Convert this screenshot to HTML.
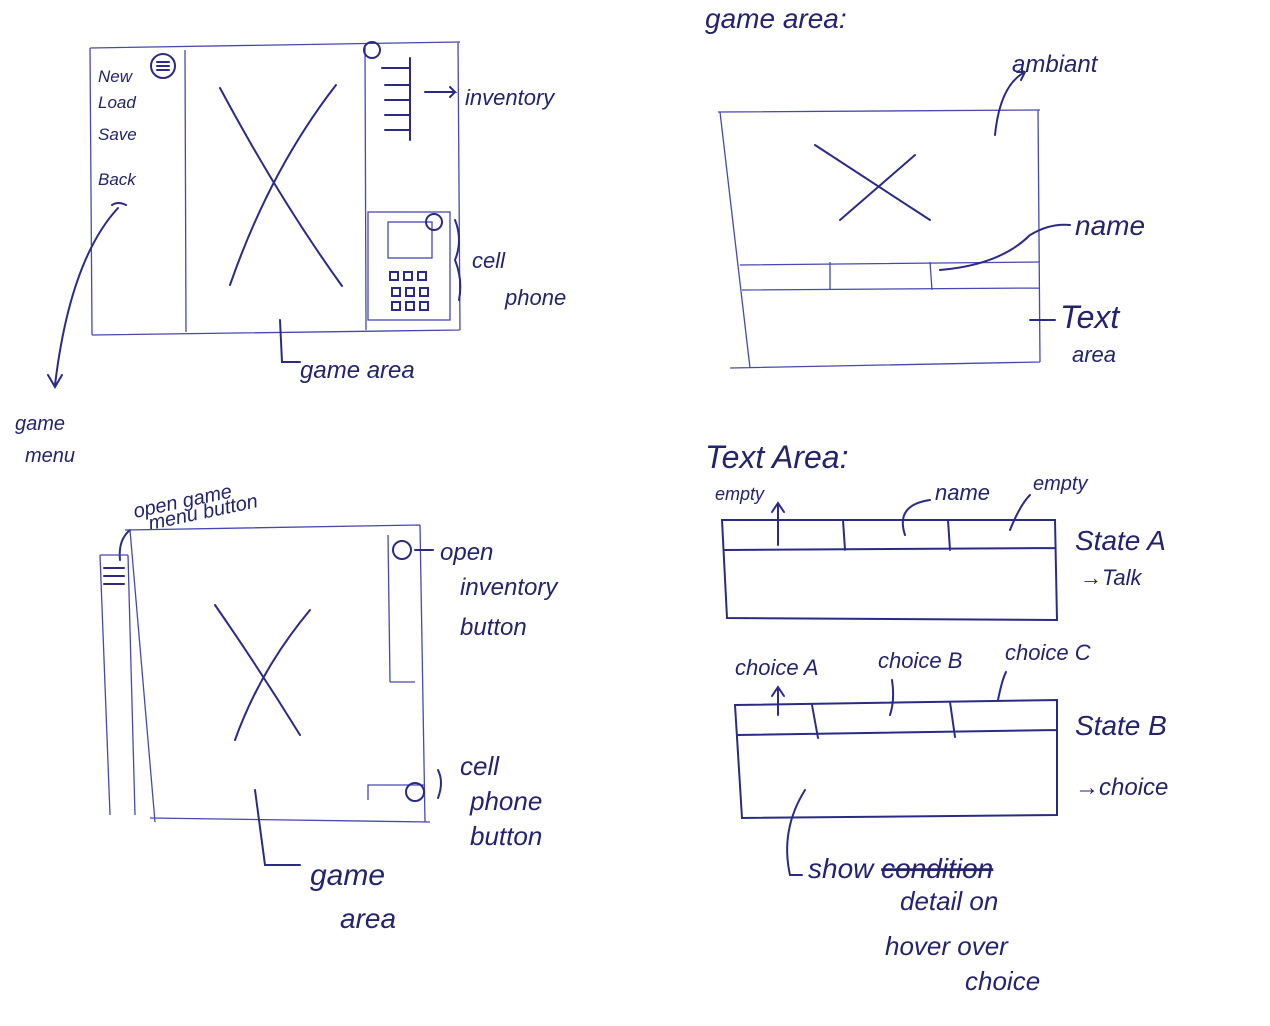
<!DOCTYPE html>
<html><head><meta charset="utf-8"><style>
html,body{margin:0;padding:0;background:#fff;}
svg{display:block;}
text{font-family:"Liberation Sans",sans-serif;font-style:italic;fill:#23236e;}
.s{stroke:#2b2b86;stroke-width:2;fill:none;stroke-linecap:round;}
.t{stroke:#4848b0;stroke-width:1.3;fill:none;}
</style></head><body>
<svg width="1270" height="1026" viewBox="0 0 1270 1026">
<rect width="1270" height="1026" fill="#fff"/>
<!-- top-left -->
<g>
<path class="t" d="M90 48 L460 42 M90 48 L92 335 M92 335 L460 330 M458 42 L460 330 M185 50 L186 332 M365 45 L366 330"/>
<path class="s" d="M220 88 Q280 200 342 286 M336 85 Q270 170 230 285"/>
<circle class="s" cx="163" cy="66" r="12"/><path class="s" d="M157 62h12M157 66h12M157 70h12"/>
<circle class="s" cx="372" cy="50" r="8"/>
<path class="s" d="M382 68h28M385 85h25M385 100h25M385 115h25M385 130h25M410 58v82"/>
<rect class="t" x="368" y="212" width="82" height="108"/>
<rect class="t" x="388" y="222" width="44" height="36"/>
<circle class="s" cx="434" cy="222" r="8"/>
<path class="s" d="M390 272h8v8h-8zM404 272h8v8h-8zM418 272h8v8h-8zM392 288h8v8h-8zM406 288h8v8h-8zM420 288h8v8h-8zM392 302h8v8h-8zM406 302h8v8h-8zM420 302h8v8h-8z"/>
<text x="98" y="82" font-size="17">New</text><text x="98" y="108" font-size="17">Load</text>
<text x="98" y="140" font-size="17">Save</text><text x="98" y="185" font-size="17">Back</text>
<path class="s" d="M112 205 q6 -4 14 0 M118 208 Q70 260 55 385 M48 375 L55 387 L62 375"/>
<text x="15" y="430" font-size="20">game</text><text x="25" y="462" font-size="20">menu</text>
<path class="s" d="M425 92 h30 l-5 -5 m5 5 l-5 5"/>
<text x="465" y="105" font-size="22">inventory</text>
<path class="s" d="M455 220 q8 20 0 40 q8 20 4 40"/>
<text x="472" y="268" font-size="22">cell</text><text x="505" y="305" font-size="22">phone</text>
<path class="s" d="M280 320 L282 362 L300 362"/>
<text x="300" y="378" font-size="24">game area</text>
</g>
<!-- top-right -->
<g>
<text x="705" y="28" font-size="28">game area:</text>
<path class="t" d="M718 112 L1040 110 M720 112 L750 368 M730 368 L1040 362 M1038 110 L1040 362 M740 265 L1040 262 M742 290 L1040 288 M830 262 L830 290 M930 262 L932 290"/>
<path class="s" d="M815 145 L930 220 M915 155 L840 220"/>
<path class="s" d="M995 135 Q1000 85 1025 72 l-8 0 m8 0 l-4 8"/>
<text x="1012" y="72" font-size="24">ambiant</text>
<path class="s" d="M940 270 Q1000 265 1030 235 q20 -12 40 -10"/>
<text x="1075" y="235" font-size="28">name</text>
<path class="s" d="M1030 320 h25"/>
<text x="1060" y="328" font-size="32">Text</text><text x="1072" y="362" font-size="22">area</text>
</g>
<!-- bottom-left -->
<g>
<text x="135" y="518" font-size="20" transform="rotate(-12 135 518)">open game</text>
<text x="150" y="530" font-size="20" transform="rotate(-12 150 530)">menu button</text>
<path class="s" d="M120 560 q-2 -20 10 -30"/>
<path class="t" d="M125 530 L420 525 M130 530 L155 822 M150 818 L430 822 M420 525 L425 822 M100 555 L128 555 M100 555 L110 815 M128 555 L135 815"/>
<path class="s" d="M104 568h20M104 576h20M104 584h20"/>
<path class="t" d="M388 535 L390 682 M390 682 L415 682"/>
<circle class="s" cx="402" cy="550" r="9"/>
<path class="s" d="M415 550 h18"/>
<text x="440" y="560" font-size="24">open</text><text x="460" y="595" font-size="24">inventory</text><text x="460" y="635" font-size="24">button</text>
<path class="s" d="M215 605 Q260 670 300 735 M310 610 Q260 670 235 740"/>
<path class="t" d="M368 800 L368 785 L425 785"/>
<circle class="s" cx="415" cy="792" r="9"/>
<path class="s" d="M438 770 q6 12 0 28"/>
<text x="460" y="775" font-size="26">cell</text><text x="470" y="810" font-size="26">phone</text><text x="470" y="845" font-size="26">button</text>
<path class="s" d="M255 790 L265 865 L300 865"/>
<text x="310" y="885" font-size="30">game</text><text x="340" y="928" font-size="28">area</text>
</g>
<!-- bottom-right -->
<g>
<text x="705" y="468" font-size="32">Text Area:</text>
<g>
<path class="s" d="M722 520 L1055 520 L1057 620 L727 618 Z M724 550 L1055 548 M843 520 L845 550 M948 520 L950 550"/>
</g>
<text x="715" y="500" font-size="18">empty</text>
<path class="s" d="M778 545 L778 505 M772 512 L778 503 L784 512"/>
<path class="s" d="M905 535 Q895 505 930 500"/>
<text x="935" y="500" font-size="22">name</text>
<path class="s" d="M1010 530 Q1020 505 1030 495"/>
<text x="1033" y="490" font-size="20">empty</text>
<text x="1075" y="550" font-size="28">State A</text><text x="1080" y="585" font-size="22">→Talk</text>
<g>
<path class="s" d="M735 705 L1057 700 L1057 815 L742 818 Z M737 735 L1057 730 M812 705 L818 738 M950 702 L955 737"/>
</g>
<text x="735" y="675" font-size="22">choice A</text>
<path class="s" d="M778 715 L778 690 M772 696 L778 687 L784 696"/>
<text x="878" y="668" font-size="22">choice B</text>
<path class="s" d="M890 715 Q895 700 892 680"/>
<text x="1005" y="660" font-size="22">choice C</text>
<path class="s" d="M998 700 Q1002 680 1006 672"/>
<text x="1075" y="735" font-size="28">State B</text><text x="1075" y="795" font-size="24">→choice</text>
<path class="s" d="M805 790 Q780 830 790 875 l12 0"/>
<text x="808" y="878" font-size="28">show <tspan text-decoration="line-through">condition</tspan></text>
<text x="900" y="910" font-size="26">detail on</text>
<text x="885" y="955" font-size="26">hover over</text>
<text x="965" y="990" font-size="26">choice</text>
</g>
</svg>
</body></html>
